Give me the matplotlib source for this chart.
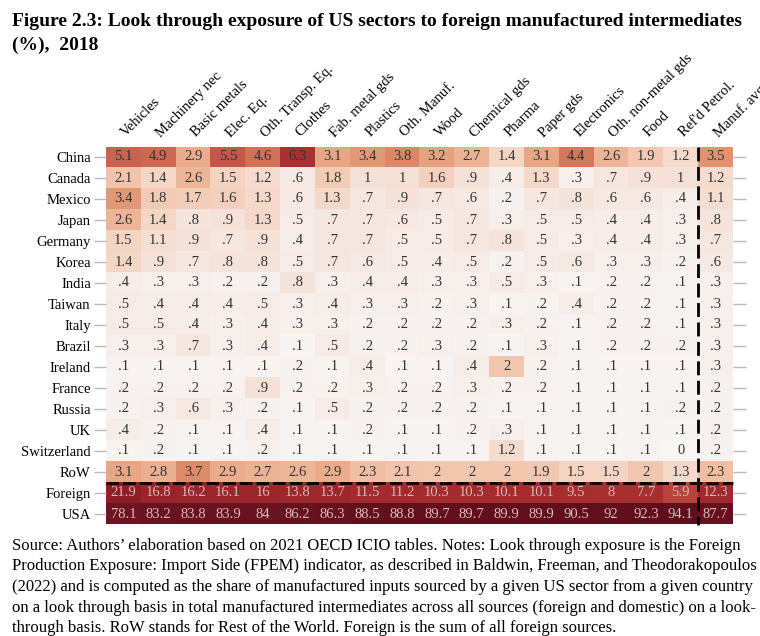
"""Heatmap: look through exposure of US sectors to foreign manufactured intermediates."""

import numpy as np
import matplotlib
matplotlib.use("Agg")
import matplotlib.pyplot as plt
import matplotlib.transforms as mtransforms
from matplotlib.colors import LinearSegmentedColormap, FuncNorm


sectors = ["Vehicles", "Machinery nec", "Basic metals", "Elec. Eq.", "Oth. Transp. Eq.",
           "Clothes", "Fab. metal gds", "Plastics", "Oth. Manuf.", "Wood", "Chemical gds",
           "Pharma", "Paper gds", "Electronics", "Oth. non-metal gds", "Food",
           "Ref'd Petrol.", "Manuf. avg"]

countries = ["China", "Canada", "Mexico", "Japan", "Germany", "Korea", "India", "Taiwan",
             "Italy", "Brazil", "Ireland", "France", "Russia", "UK", "Switzerland",
             "RoW", "Foreign", "USA"]

china = [5.1, 4.9, 2.9, 5.5, 4.6, 6.3, 3.1, 3.4, 3.8, 3.2, 2.7, 1.4, 3.1, 4.4, 2.6, 1.9, 1.2, 3.5]
canada = [2.1, 1.4, 2.6, 1.5, 1.2, .6, 1.8, 1, 1, 1.6, .9, .4, 1.3, .3, .7, .9, 1, 1.2]
mexico = [3.4, 1.8, 1.7, 1.6, 1.3, .6, 1.3, .7, .9, .7, .6, .2, .7, .8, .6, .6, .4, 1.1]
japan = [2.6, 1.4, .8, .9, 1.3, .5, .7, .7, .6, .5, .7, .3, .5, .5, .4, .4, .3, .8]
germany = [1.5, 1.1, .9, .7, .9, .4, .7, .7, .5, .5, .7, .8, .5, .3, .4, .4, .3, .7]
korea = [1.4, .9, .7, .8, .8, .5, .7, .6, .5, .4, .5, .2, .5, .6, .3, .3, .2, .6]
india = [.4, .3, .3, .2, .2, .8, .3, .4, .4, .3, .3, .5, .3, .1, .2, .2, .1, .3]
taiwan = [.5, .4, .4, .4, .5, .3, .4, .3, .3, .2, .3, .1, .2, .4, .2, .2, .1, .3]
italy = [.5, .5, .4, .3, .4, .3, .3, .2, .2, .2, .2, .3, .2, .1, .2, .2, .1, .3]
brazil = [.3, .3, .7, .3, .4, .1, .5, .2, .2, .3, .2, .1, .3, .1, .2, .2, .2, .3]
ireland = [.1, .1, .1, .1, .1, .2, .1, .4, .1, .1, .4, 2, .2, .1, .1, .1, .1, .3]
france = [.2, .2, .2, .2, .9, .2, .2, .3, .2, .2, .3, .2, .2, .1, .1, .1, .1, .2]
russia = [.2, .3, .6, .3, .2, .1, .5, .2, .2, .2, .2, .1, .1, .1, .1, .1, .2, .2]
uk = [.4, .2, .1, .1, .4, .1, .1, .2, .1, .1, .2, .3, .1, .1, .1, .1, .1, .2]
switzerland = [.1, .2, .1, .1, .2, .1, .1, .1, .1, .1, .1, 1.2, .1, .1, .1, .1, 0, .2]
row = [3.1, 2.8, 3.7, 2.9, 2.7, 2.6, 2.9, 2.3, 2.1, 2, 2, 2, 1.9, 1.5, 1.5, 2, 1.3, 2.3]
foreign = [21.9, 16.8, 16.2, 16.1, 16, 13.8, 13.7, 11.5, 11.2, 10.3, 10.3, 10.1, 10.1,
           9.5, 8, 7.7, 5.9, 12.3]
usa = [78.1, 83.2, 83.8, 83.9, 84, 86.2, 86.3, 88.5, 88.8, 89.7, 89.7, 89.9, 89.9,
       90.5, 92, 92.3, 94.1, 87.7]

footer = [
    "Source: Authors\u2019 elaboration based on 2021 OECD ICIO tables. Notes: Look through exposure is the Foreign",
    "Production Exposure: Import Side (FPEM) indicator, as described in Baldwin, Freeman, and Theodorakopoulos",
    "(2022) and is computed as the share of manufactured inputs sourced by a given US sector from a given country",
    "on a look through basis in total manufactured intermediates across all sources (foreign and domestic) on a look-",
    "through basis. RoW stands for Rest of the World. Foreign is the sum of all foreign sources.",
]


def fmt(v):
    s = f"{v:.1f}".rstrip("0").rstrip(".")
    if s.startswith("0."):
        s = s[1:]
    return s


def make_figure():
    plt.rcParams["font.family"] = ["Liberation Serif", "DejaVu Serif"]
    data = np.array([china, canada, mexico, japan, germany, korea, india, taiwan, italy,
                     brazil, ireland, france, russia, uk, switzerland, row, foreign, usa])

    # colour stops keyed to values, mapped evenly onto the colormap
    nodes = [0, 0.6, 1.4, 2.2, 3.0, 3.6, 4.6, 5.5, 6.3, 22, 78, 95]
    colors = ["#f8f5f5", "#f6e9e3", "#f4d6c5", "#f1c1a7", "#eaaa8a", "#de8e6c",
              "#d07257", "#c4564a", "#ab3232", "#8e1f27", "#6e1422", "#5e0e1c"]
    pos = np.linspace(0, 1, len(nodes))
    cmap = LinearSegmentedColormap.from_list("exp", list(zip(pos, colors)))
    norm = FuncNorm((lambda x: np.interp(x, nodes, pos),
                     lambda y: np.interp(y, pos, nodes)), vmin=0, vmax=95)

    fig = plt.figure(figsize=(7.6, 6.36), dpi=100)
    ax = fig.add_axes([106 / 760, 1 - 524.5 / 636, 627 / 760, 378 / 636])
    ax.imshow(data, cmap=cmap, norm=norm, aspect="auto", interpolation="nearest")

    nr, nc = data.shape
    for i in range(nr):
        for j in range(nc):
            col = "#dcb8b8" if i >= nr - 2 else "#333333"
            ax.text(j, i, fmt(data[i, j]), ha="center", va="center", fontsize=10.5, color=col)

    ax.set_xticks(range(nc))
    ax.set_xticklabels(sectors, rotation=45, ha="left", rotation_mode="anchor", fontsize=10.5)
    ax.xaxis.tick_top()
    ax.tick_params(axis="x", length=0, pad=5)
    shift = mtransforms.ScaledTranslation(5 / 100, 0, fig.dpi_scale_trans)
    for lab in ax.get_xticklabels():
        lab.set_transform(lab.get_transform() + shift)
    ax.set_yticks(range(nr))
    ax.set_yticklabels(countries, fontsize=10.5)
    ax.tick_params(axis="y", left=True, right=True, length=9, width=1, color="#bbbbbb", pad=2)
    for t in ax.yaxis.get_major_ticks():
        t.tick1line.set_linestyle((0, (1, 2)))
        t.tick2line.set_linestyle((0, (1, 2)))
    for s in ax.spines.values():
        s.set_visible(False)

    ax.plot([-0.5, nc - 0.5], [nr - 2.5, nr - 2.5], color="black", lw=2,
            ls=(0, (4.5, 1.5)), clip_on=False)
    ax.plot([nc - 1.5, nc - 1.5], [-0.5, nr - 0.5], color="black", lw=2,
            ls=(0, (5, 2)), clip_on=False)
    ax.set_xlim(-0.5, nc - 0.5)
    ax.set_ylim(nr - 0.5, -0.5)

    fig.text(12 / 760, 1 - 22 / 636, "Figure 2.3: Look through exposure of US sectors to foreign manufactured intermediates",
             fontsize=14, fontweight="bold", va="center")
    fig.text(12 / 760, 1 - 45 / 636, "(%),  2018", fontsize=14, fontweight="bold", va="center")
    for k, line in enumerate(footer):
        fig.text(12 / 760, 1 - (546 + 20.5 * k) / 636, line, fontsize=12, va="center")

    fig.savefig("out.png", dpi=100)


if __name__ == "__main__":
    make_figure()
